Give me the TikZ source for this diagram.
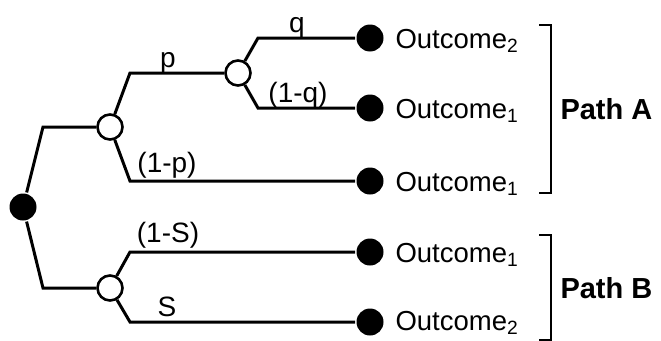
\documentclass[tikz,border=0pt]{standalone}
\usepackage{fontspec}
\setmainfont{Liberation Sans}
\begin{document}
\begin{tikzpicture}[x=1pt,y=-1pt,
  line width=3pt,
  chance/.style={circle,draw,fill=white,line width=2.6pt,minimum size=25pt,inner sep=0pt},
  start/.style={circle,fill=black,minimum size=27pt,inner sep=0pt},
  leaf/.style={circle,fill=black,minimum size=27pt,inner sep=0pt},
  outc/.style={anchor=base west,font=\fontsize{27.5}{32}\selectfont,inner sep=0pt},
  prob/.style={anchor=base,font=\fontsize{28}{32}\selectfont,inner sep=0pt},
  pathlbl/.style={anchor=west,font=\fontsize{29}{34}\selectfont\bfseries,inner sep=0pt}]
\useasboundingbox (0,0) rectangle (661,340);

% bends of the branches
\coordinate (kA) at (43,127);
\coordinate (kB) at (43,288);
\coordinate (kA1) at (130,73);
\coordinate (kA3) at (130,181);
\coordinate (kq1) at (258,38);
\coordinate (kq2) at (258,108);
\coordinate (kB1) at (130,252);
\coordinate (kB2) at (130,322);

% end points
\node[leaf] (o1) at (370,38) {};
\node[leaf] (o2) at (370,108) {};
\node[leaf] (o3) at (370,181) {};
\node[leaf] (o4) at (370,252) {};
\node[leaf] (o5) at (370,322) {};

% decision and chance points
\node[start] (root) at (23,207) {};
\node[chance] (cA) at (110,127) {};
\node[chance] (cA2) at (238,73) {};
\node[chance] (cB) at (110,288) {};

% branches
\draw (root) -- (kA) -- (cA);
\draw (root) -- (kB) -- (cB);
\draw (cA) -- (kA1) -- (cA2);
\draw (cA) -- (kA3) -- (o3);
\draw (cA2) -- (kq1) -- (o1);
\draw (cA2) -- (kq2) -- (o2);
\draw (cB) -- (kB1) -- (o4);
\draw (cB) -- (kB2) -- (o5);

% probabilities
\node[prob] (lp) at (168,67) {p};
\node[prob] (lq) at (297,32) {q};
\node[prob] (l1q) at (298,102) {(1-q)};
\node[prob] (l1p) at (167,172) {(1-p)};
\node[prob] (l1s) at (168,242) {(1-S)};
\node[prob] (ls) at (167,316) {S};

% outcomes
\node[outc] (t1) at (394,48) {Outcome\textsubscript{2}};
\node[outc] (t2) at (394,118) {Outcome\textsubscript{1}};
\node[outc] (t3) at (394,191) {Outcome\textsubscript{1}};
\node[outc] (t4) at (394,262) {Outcome\textsubscript{1}};
\node[outc] (t5) at (394,330) {Outcome\textsubscript{2}};

% path brackets
\coordinate (bA1) at (539,25);
\coordinate (bA2) at (551,25);
\coordinate (bA3) at (551,193);
\coordinate (bA4) at (539,193);
\draw[line width=2.8pt] (bA1) -- (bA2) -- (bA3) -- (bA4);
\coordinate (bB1) at (539,235);
\coordinate (bB2) at (551,235);
\coordinate (bB3) at (551,340);
\coordinate (bB4) at (539,340);
\draw[line width=2.8pt] (bB1) -- (bB2) -- (bB3) -- (bB4);

\node[pathlbl] (pa) at (559,109) {Path A};
\node[pathlbl] (pb) at (559,288) {Path B};
\end{tikzpicture}
\end{document}
